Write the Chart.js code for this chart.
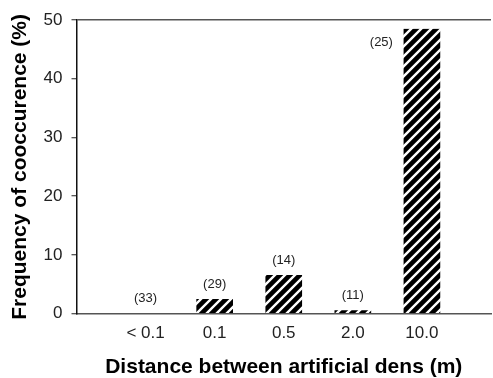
<!DOCTYPE html>
<html lang="en">
<head>
<meta charset="UTF-8">
<title>Frequency of cooccurence</title>
<script src="https://cdn.jsdelivr.net/npm/chart.js"></script>
<style>
  body { margin: 0; background: #fff; overflow: hidden; }
  canvas { display: block; }
</style>
</head>
<body>
<canvas id="coocChart" width="500" height="378"></canvas>
<script>
const distances = ['< 0.1', '0.1', '0.5', '2.0', '10.0'];
const frequency = [0, 2.5, 6.6, 0.6, 48.5];
const nPairs = [33, 29, 14, 11, 25];
const yTicks = [0, 10, 20, 30, 40, 50];

// empty slot at each end so the axis runs past the first and last bar
const axisLabels = [''].concat(distances, ['']);
const axisValues = [null].concat(frequency, [null]);

const ctx = document.getElementById('coocChart').getContext('2d');

// black bars with white "/" stripes
function hatch() {
  const s = 10;
  const c = document.createElement('canvas');
  c.width = s; c.height = s;
  const g = c.getContext('2d');
  g.fillStyle = '#000';
  g.fillRect(0, 0, s, s);
  g.strokeStyle = '#fff';
  g.lineWidth = 2.4;
  g.beginPath();
  g.moveTo(-1, s + 1); g.lineTo(s + 1, -1);
  g.moveTo(-1, 1); g.lineTo(1, -1);
  g.moveTo(s - 1, s + 1); g.lineTo(s + 1, s - 1);
  g.stroke();
  return ctx.createPattern(c, 'repeat');
}

// sample sizes written over each bar (beside it when the bar is too tall)
const countLabels = {
  id: 'countLabels',
  afterDatasetsDraw(chart) {
    const c = chart.ctx;
    const bars = chart.getDatasetMeta(0).data;
    c.save();
    c.font = '13px Arial, "Liberation Sans", sans-serif';
    c.fillStyle = '#222';
    c.textBaseline = 'middle';
    nPairs.forEach((n, i) => {
      const bar = bars[i + 1];
      const text = '(' + n + ')';
      if (bar.y - 24 < chart.chartArea.top) {
        c.textAlign = 'right';
        c.fillText(text, bar.x - bar.width / 2 - 8, bar.y + 14);
      } else {
        c.textAlign = 'center';
        c.fillText(text, bar.x, bar.y - 15);
      }
    });
    c.restore();
  }
};

Chart.defaults.font.family = 'Arial, "Liberation Sans", sans-serif';

new Chart(ctx, {
  type: 'bar',
  data: {
    labels: axisLabels,
    datasets: [{
      data: axisValues,
      backgroundColor: hatch(),
      borderColor: '#fff',
      borderWidth: { left: 3, right: 3, top: 0, bottom: 0 },
      barThickness: 42
    }]
  },
  options: {
    responsive: false,
    animation: false,
    layout: { padding: { top: 20, right: 5, bottom: 0, left: 2 } },
    plugins: {
      legend: { display: false },
      tooltip: { enabled: false }
    },
    scales: {
      x: {
        offset: false,
        grid: { display: false, drawTicks: false },
        border: { color: '#555', width: 1.5 },
        ticks: { color: '#222', font: { size: 17 }, padding: 9, autoSkip: false, maxRotation: 0 },
        title: {
          display: true,
          text: 'Distance between artificial dens (m)',
          color: '#000',
          font: { size: 21, weight: 'bold', lineHeight: 1 },
          padding: 0
        },
        afterFit: s => { s.height = 64.3; }
      },
      y: {
        min: 0,
        max: 50,
        afterBuildTicks: s => { s.ticks = yTicks.map(v => ({ value: v })); },
        grid: {
          color: c => (c.tick && c.tick.value === 50 ? '#555' : 'rgba(0,0,0,0)'),
          lineWidth: 1.5,
          tickColor: '#222',
          tickLength: 5,
          tickWidth: 1
        },
        border: { color: '#111', width: 1.5 },
        ticks: { color: '#222', font: { size: 17 }, padding: 9 },
        title: {
          display: true,
          text: 'Frequency of cooccurence (%)',
          color: '#000',
          font: { size: 21, weight: 'bold', lineHeight: 1 },
          padding: { top: 8, bottom: 0 }
        },
        afterFit: s => { s.width = 74.5; }
      }
    }
  },
  plugins: [countLabels]
});
</script>
</body>
</html>
